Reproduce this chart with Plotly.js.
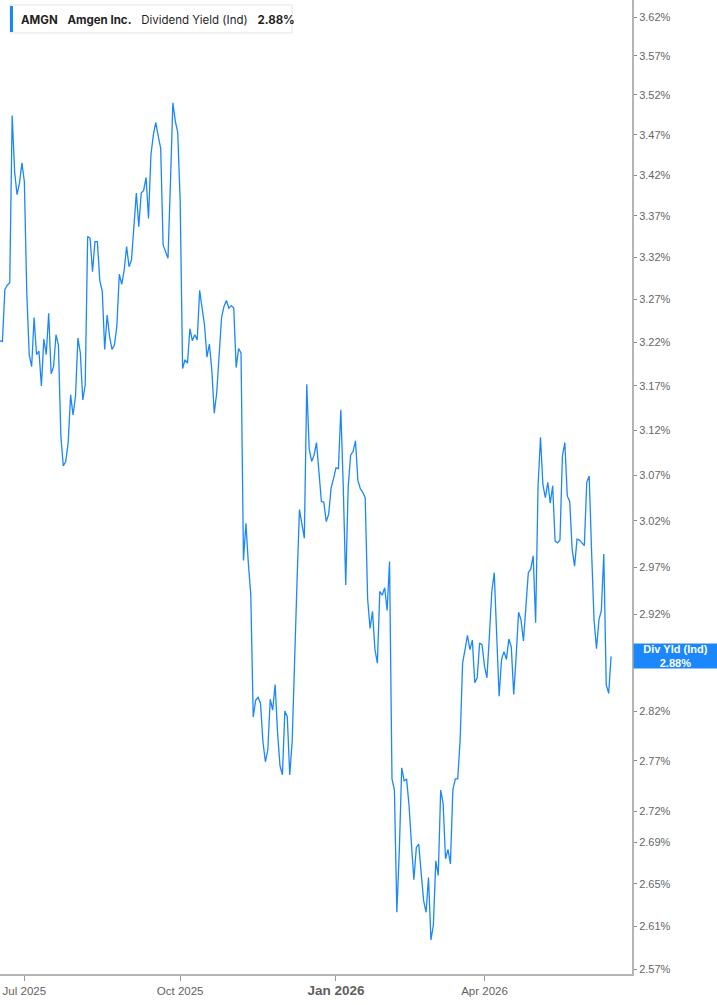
<!DOCTYPE html>
<html>
<head>
<meta charset="utf-8">
<script src="https://cdn.plot.ly/plotly-3.0.1.min.js"></script>
<style>
  html, body { margin: 0; padding: 0; background: #ffffff; }
  #chart { width: 717px; height: 1005px; }
</style>
</head>
<body>
<div id="chart"></div>
<script>
// ---- data ----
const ticker = "AMGN";
const companyName = "Amgen Inc.";
const seriesName = "Dividend Yield (Ind)";
const shortName = "Div Yld (Ind)";
const startDate = "2025-06-16";   // first trading day shown
const marketHolidays = ["2025-06-19","2025-07-04","2025-09-01","2025-11-27","2025-12-25",
                        "2026-01-01","2026-01-19","2026-02-16","2026-04-03","2026-05-25","2026-06-19"];

// daily dividend yield, % (one value per trading day)
const yieldSummer2025 = [3.222,3.221,3.282,3.287,3.290,3.494,3.424,3.396,3.410,3.435,3.412,3.278,3.206,3.192,3.249,3.206,3.210,3.170,3.224,3.206,3.254,3.184,3.192,3.229,3.217,3.113,3.080,3.085,3.106,3.160,3.137,3.158,3.225,3.208,3.154,3.171,3.345,3.343,3.303,3.339,3.339,3.292,3.280,3.212,3.252,3.227,3.212,3.217,3.239,3.300,3.288,3.305,3.333,3.309,3.317,3.357,3.398,3.357,3.398,3.401,3.417,3.367,3.445,3.470,3.485,3.468,3.453];
const yieldAutumn2025 = [3.335,3.328,3.319,3.410,3.510,3.487,3.473,3.388,3.190,3.200,3.196,3.236,3.222,3.229,3.223,3.281,3.260,3.240,3.203,3.218,3.188,3.139,3.162,3.213,3.249,3.262,3.269,3.260,3.263,3.260,3.191,3.213,3.208,2.977,3.017,2.974,2.941,2.814,2.831,2.834,2.828,2.789,2.769,2.781,2.832,2.821,2.847,2.798,2.765,2.756,2.820,2.814,2.756,2.789,2.885,2.955,3.032,3.015,3.001];
const yieldWinter2026 = [3.172,3.099,3.085,3.092,3.106,3.070,3.041,3.040,3.019,3.027,3.056,3.066,3.078,3.077,3.143,3.056,2.951,3.056,3.092,3.096,3.108,3.064,3.055,3.051,3.045,2.936,2.905,2.923,2.883,2.869,2.944,2.940,2.948,2.924,2.976,2.752,2.741,2.623,2.681,2.763,2.750,2.752,2.726,2.688,2.654,2.685,2.688,2.660,2.634,2.623,2.656,2.597,2.611,2.672,2.658,2.741,2.728,2.674,2.683,2.669,2.741,2.752,2.752,2.791];
const yieldSpring2026 = [2.869,2.883,2.898,2.883,2.893,2.849,2.854,2.890,2.888,2.866,2.854,2.897,2.944,2.964,2.900,2.835,2.873,2.881,2.873,2.894,2.886,2.837,2.876,2.922,2.914,2.892,2.928,2.964,2.968,2.982,2.911,3.058,3.112,3.059,3.045,3.062,3.039,3.058,2.998,2.996,2.999,3.091,3.106,3.047,3.041,2.989,2.971,3.000,2.999,2.996,2.993,3.062,3.069,2.985,2.914,2.884,2.914,2.924,2.984,2.847,2.838,2.876];

const yTickValues = [3.62,3.57,3.52,3.47,3.42,3.37,3.32,3.27,3.22,3.17,3.12,3.07,3.02,2.97,2.92,2.87,2.82,2.77,2.72,2.69,2.65,2.61,2.57];
const xTickDates = ["2025-07-01","2025-10-01","2026-01-02","2026-04-01"];
const xTickLabels = ["Jul 2025","Oct 2025","Jan 2026","Apr 2026"];
const boldTickLabel = "Jan 2026";

// ---- build trading-day dates ----
const divYield = [].concat(yieldSummer2025, yieldAutumn2025, yieldWinter2026, yieldSpring2026);
function tradingDays(start, count) {
  const out = [];
  const d = new Date(start + "T00:00:00Z");
  while (out.length < count) {
    const dow = d.getUTCDay();
    const iso = d.toISOString().slice(0, 10);
    if (dow !== 0 && dow !== 6 && marketHolidays.indexOf(iso) < 0) out.push(iso);
    d.setUTCDate(d.getUTCDate() + 1);
  }
  return out;
}
const extended = tradingDays(startDate, 262);
const dates = extended.slice(0, divYield.length);
const rangeEnd = extended[259] + " 14:00";

const lastVal = divYield[divYield.length - 1];
const lastTxt = lastVal.toFixed(2) + "%";

const W = 632, H = 974; // plot area in px
const px = v => v / W;
const py = v => 1 - v / H;
const gap = "\u00A0\u00A0\u00A0";

const trace = {
  type: "scatter",
  mode: "lines",
  x: dates,
  y: divYield,
  line: { color: "#1c87fb", width: 1.3 },
  hoverinfo: "skip"
};

const layout = {
  width: 717,
  height: 1005,
  margin: { l: 0, r: 85, t: 0, b: 31, pad: 0 },
  paper_bgcolor: "#ffffff",
  plot_bgcolor: "#ffffff",
  showlegend: false,
  font: { family: "Liberation Sans, Arial, sans-serif", color: "#5f5f5f", size: 11 },
  xaxis: {
    type: "date",
    range: [dates[0], rangeEnd],
    rangebreaks: [{ bounds: ["sat", "mon"] }, { values: marketHolidays }],
    tickmode: "array",
    tickvals: xTickDates,
    ticktext: xTickLabels.map(t => t === boldTickLabel
      ? '<b><span style="font-size:13.5px">' + t + '</span></b>' : t),
    ticks: "outside",
    ticklen: 5,
    tickwidth: 1,
    tickcolor: "#9a9a9a",
    tickfont: { size: 11.5, color: "#5f5f5f", family: "Liberation Sans, Arial, sans-serif" },
    showline: true,
    linecolor: "#b4b4b4",
    linewidth: 2,
    showgrid: false,
    zeroline: false,
    fixedrange: true
  },
  yaxis: {
    type: "log",
    side: "right",
    range: [Math.log10(2.5654), Math.log10(3.6423)],
    tickmode: "array",
    tickvals: yTickValues,
    ticktext: yTickValues.map(v => v.toFixed(2) + "%"),
    ticks: "outside",
    ticklen: 3,
    tickwidth: 1,
    tickcolor: "#8a8a8a",
    tickfont: { size: 11, color: "#666666", family: "Liberation Sans, Arial, sans-serif" },
    showline: true,
    linecolor: "#b4b4b4",
    linewidth: 2,
    showgrid: false,
    zeroline: false,
    fixedrange: true
  },
  shapes: [
    { type: "rect", xref: "paper", yref: "paper", x0: px(10), x1: px(292), y0: py(33), y1: py(5),
      fillcolor: "#ffffff", line: { color: "#e4e4e4", width: 1 } },
    { type: "rect", xref: "paper", yref: "paper", x0: px(10), x1: px(13), y0: py(32), y1: py(6),
      fillcolor: "#1c87fb", line: { width: 0 } }
  ],
  annotations: [
    {
      xref: "paper", yref: "paper", x: px(19), y: py(19.5), xanchor: "left", yanchor: "middle",
      showarrow: false, align: "left",
      text: "<b>" + ticker + "</b>" + gap + "<b>" + companyName + "</b>" + gap +
            seriesName + gap + "<b>" + lastTxt + "</b>",
      font: { family: "Inter, Liberation Sans, Arial, sans-serif", size: 11.5, color: "#1f1f1f" }
    },
    {
      xref: "paper", yref: "y", x: 1, y: Math.log10(lastVal), xanchor: "left", yanchor: "middle",
      xshift: 1,
      showarrow: false, align: "center",
      width: 83, height: 24,
      bgcolor: "#1c87fb", borderpad: 0,
      text: "<b>" + shortName + "</b><br><b>" + lastTxt + "</b>",
      font: { family: "Liberation Sans, Arial, sans-serif", size: 11, color: "#ffffff" }
    }
  ]
};

Plotly.newPlot("chart", [trace], layout, { displayModeBar: false, staticPlot: true });
</script>
</body>
</html>
